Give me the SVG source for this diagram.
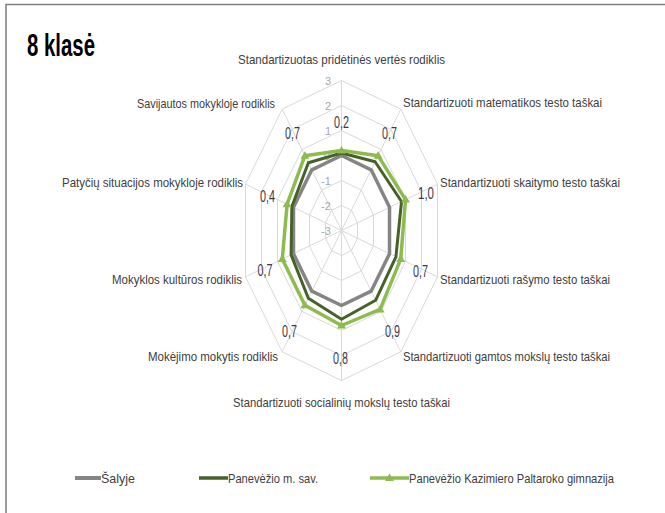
<svg xmlns="http://www.w3.org/2000/svg" xmlns:xlink="http://www.w3.org/1999/xlink" width="665" height="513" viewBox="0 0 665 513">
<style>
.cat{font-family:"Liberation Sans",Arial,sans-serif;font-size:13.5px;fill:#404040}
.end{text-anchor:end}
.mid{text-anchor:middle}
.val{font-family:"Liberation Sans",Arial,sans-serif;font-size:16px;fill:#3a3a4a;text-anchor:middle}
.tick{font-family:"Liberation Sans",Arial,sans-serif;font-size:11px;fill:#a6a6a6;text-anchor:middle}
.leg{font-family:"Liberation Sans",Arial,sans-serif;font-size:13px;fill:#404040}
.grid{fill:none;stroke:#d9d9d9;stroke-width:1;vector-effect:non-scaling-stroke}
.s1{fill:none;stroke:#858585;stroke-width:3.5;stroke-linejoin:round;vector-effect:non-scaling-stroke}
.s2{fill:none;stroke:#46622a;stroke-width:3;stroke-linejoin:round;vector-effect:non-scaling-stroke}
.s3{fill:none;stroke:#8dbb4e;stroke-width:3.5;stroke-linejoin:round;vector-effect:non-scaling-stroke}
.mk{fill:#8dbb4e}
</style>
<defs>
<path id="tri" d="M0,-4.5 L4.5,3 L-4.5,3Z"/>
</defs>
<rect width="665" height="513" fill="#ffffff"/>
<rect id="frame" x="6" y="4.5" width="680" height="530" fill="none" stroke="#7f7f7f" stroke-width="1.5"/>
<g id="title"><text x="27" y="56" textLength="68" lengthAdjust="spacingAndGlyphs" style="font-family:'Liberation Sans',Arial,sans-serif;font-weight:bold;font-size:31px;fill:#000">8 klasė</text></g>
<g id="grid" transform="translate(341.5 230.5) scale(0.673 1)">
<polygon class="grid" points="0,-25 14.70,-20.23 23.78,-7.73 23.78,7.73 14.70,20.23 0,25 -14.70,20.23 -23.78,7.73 -23.78,-7.73 -14.70,-20.23"/>
<polygon class="grid" points="0,-50 29.39,-40.45 47.55,-15.45 47.55,15.45 29.39,40.45 0,50 -29.39,40.45 -47.55,15.45 -47.55,-15.45 -29.39,-40.45"/>
<polygon class="grid" points="0,-75 44.08,-60.68 71.33,-23.18 71.33,23.18 44.08,60.68 0,75 -44.08,60.68 -71.33,23.18 -71.33,-23.18 -44.08,-60.68"/>
<polygon class="grid" points="0,-100 58.78,-80.9 95.11,-30.9 95.11,30.9 58.78,80.9 0,100 -58.78,80.9 -95.11,30.9 -95.11,-30.9 -58.78,-80.9"/>
<polygon class="grid" points="0,-125 73.47,-101.13 118.89,-38.63 118.89,38.63 73.47,101.13 0,125 -73.47,101.13 -118.89,38.63 -118.89,-38.63 -73.47,-101.13"/>
<polygon class="grid" points="0,-150 88.17,-121.35 142.66,-46.35 142.66,46.35 88.17,121.35 0,150 -88.17,121.35 -142.66,46.35 -142.66,-46.35 -88.17,-121.35"/>
<path class="grid" d="M0,0L0,-150M0,0L88.17,-121.35M0,0L142.66,-46.35M0,0L142.66,46.35M0,0L88.17,121.35M0,0L0,150M0,0L-88.17,121.35M0,0L-142.66,46.35M0,0L-142.66,-46.35M0,0L-88.17,-121.35"/>
</g>
<g id="ticks">
<text class="tick" x="328" y="85">3</text>
<text class="tick" x="328" y="110">2</text>
<text class="tick" x="328" y="135">1</text>
<text class="tick" x="327" y="160">0</text>
<text class="tick" x="326" y="185">-1</text>
<text class="tick" x="326" y="210">-2</text>
<text class="tick" x="326" y="235">-3</text>
</g>
<g id="series" transform="translate(341.5 230.5) scale(0.673 1)">
<polygon id="salyje" class="s1" points="0,-75 44.08,-60.68 71.33,-23.18 71.33,23.18 44.08,60.68 0,75 -44.08,60.68 -71.33,23.18 -71.33,-23.18 -44.08,-60.68"/>
<polygon id="savivaldybe" class="s2" points="0,-77.5 49.96,-68.77 89.17,-28.97 80.84,26.27 50.70,69.78 0,88.75 -49.23,67.75 -74.90,24.33 -73.71,-23.95 -49.23,-67.75"/>
<polygon id="gimnazija" class="s3" points="0,-80 54.37,-74.83 95.11,-30.9 87.98,28.58 57.31,78.88 0,95 -54.37,74.83 -87.98,28.58 -80.84,-26.27 -54.37,-74.83"/>
</g>
<g id="markers" class="mk">
<use xlink:href="#tri" x="341.5" y="150.5"/>
<use xlink:href="#tri" x="378.1" y="155.7"/>
<use xlink:href="#tri" x="405.5" y="199.6"/>
<use xlink:href="#tri" x="400.7" y="259.1"/>
<use xlink:href="#tri" x="380.1" y="309.4"/>
<use xlink:href="#tri" x="341.5" y="325.5"/>
<use xlink:href="#tri" x="304.9" y="305.3"/>
<use xlink:href="#tri" x="282.3" y="259.1"/>
<use xlink:href="#tri" x="287.1" y="204.2"/>
<use xlink:href="#tri" x="304.9" y="155.7"/>
</g>
<g id="values">
<text class="val" x="341.5" y="128" textLength="15" lengthAdjust="spacingAndGlyphs">0,2</text>
<text class="val" x="389.5" y="139" textLength="15" lengthAdjust="spacingAndGlyphs">0,7</text>
<text class="val" x="426" y="199" textLength="16" lengthAdjust="spacingAndGlyphs">1,0</text>
<text class="val" x="420.5" y="277" textLength="15" lengthAdjust="spacingAndGlyphs">0,7</text>
<text class="val" x="392.5" y="337" textLength="15" lengthAdjust="spacingAndGlyphs">0,9</text>
<text class="val" x="340.5" y="364" textLength="15" lengthAdjust="spacingAndGlyphs">0,8</text>
<text class="val" x="289.5" y="337" textLength="15" lengthAdjust="spacingAndGlyphs">0,7</text>
<text class="val" x="265" y="276" textLength="15" lengthAdjust="spacingAndGlyphs">0,7</text>
<text class="val" x="267.5" y="202" textLength="15" lengthAdjust="spacingAndGlyphs">0,4</text>
<text class="val" x="292.5" y="139" textLength="15" lengthAdjust="spacingAndGlyphs">0,7</text>
</g>
<g id="categories">
<text class="cat mid" x="341.5" y="64" textLength="207" lengthAdjust="spacingAndGlyphs">Standartizuotas pridėtinės vertės rodiklis</text>
<text class="cat" x="403" y="107" textLength="199" lengthAdjust="spacingAndGlyphs">Standartizuoti matematikos testo taškai</text>
<text class="cat" x="440" y="187" textLength="180" lengthAdjust="spacingAndGlyphs">Standartizuoti skaitymo testo taškai</text>
<text class="cat" x="440" y="284" textLength="170" lengthAdjust="spacingAndGlyphs">Standartizuoti rašymo testo taškai</text>
<text class="cat" x="403" y="361" textLength="207" lengthAdjust="spacingAndGlyphs">Standartizuoti gamtos mokslų testo taškai</text>
<text class="cat mid" x="341.5" y="407" textLength="217" lengthAdjust="spacingAndGlyphs">Standartizuoti socialinių mokslų testo taškai</text>
<text class="cat end" x="278" y="361" textLength="130" lengthAdjust="spacingAndGlyphs">Mokėjimo mokytis rodiklis</text>
<text class="cat end" transform="translate(242 284) scale(0.85 1)" x="0" y="0">Mokyklos kultūros rodiklis</text>
<text class="cat end" x="243" y="187" textLength="181" lengthAdjust="spacingAndGlyphs">Patyčių situacijos mokykloje rodiklis</text>
<text class="cat end" x="275" y="108" textLength="138" lengthAdjust="spacingAndGlyphs">Savijautos mokykloje rodiklis</text>
</g>
<g id="legend">
<g id="leg-salyje">
<line x1="75" y1="478" x2="101" y2="478" stroke="#858585" stroke-width="4"/>
<text class="leg" x="101" y="482.5" textLength="34" lengthAdjust="spacingAndGlyphs">Šalyje</text>
</g>
<g id="leg-sav">
<line x1="199" y1="478" x2="228" y2="478" stroke="#46622a" stroke-width="3.5"/>
<text class="leg" x="228" y="482.5" textLength="90" lengthAdjust="spacingAndGlyphs">Panevėžio m. sav.</text>
</g>
<g id="leg-gimn">
<line x1="370" y1="478" x2="409" y2="478" stroke="#8dbb4e" stroke-width="3.5"/>
<use xlink:href="#tri" x="389.5" y="478" class="mk"/>
<text class="leg" x="409" y="482.5" textLength="205" lengthAdjust="spacingAndGlyphs">Panevėžio Kazimiero Paltaroko gimnazija</text>
</g>
</g>
</svg>
